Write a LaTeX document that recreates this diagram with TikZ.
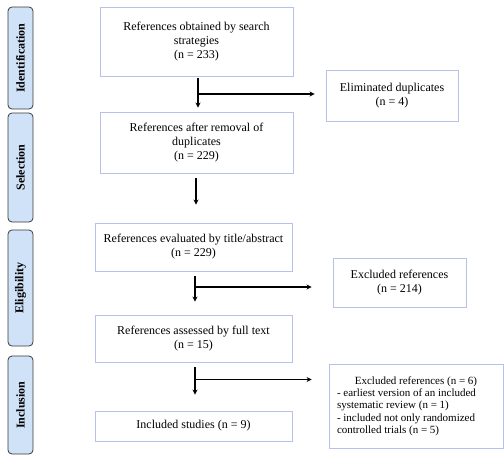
\documentclass[tikz,border=0pt]{standalone}
\usepackage{fontspec}
\setmainfont{Liberation Serif}
\usetikzlibrary{arrows.meta,calc}
\definecolor{boxline}{HTML}{B6C2EA}
\definecolor{sidefill}{HTML}{CFE2F8}
\definecolor{sideline}{HTML}{3A3A3A}
\begin{document}
\begin{tikzpicture}[x=1pt,y=-1pt,
  flowbox/.style={draw=boxline,line width=0.9pt,fill=white,inner sep=0pt,align=center,
    font=\fontsize{12}{14}\selectfont},
  sidebox/.style={draw=sideline,fill=sidefill,line width=0.8pt,rounded corners=4pt,
    rotate=90,minimum height=25pt,inner sep=0pt,font=\fontsize{12}{14}\selectfont\bfseries},
  arr/.style={line width=1.1pt,-{Stealth[length=5pt,width=5pt]}}]
\useasboundingbox (0,0) rectangle (504,456);
% side labels
\node[sidebox,minimum width=102pt] (sid) at (20.5,58) {Identification};
\node[sidebox,minimum width=109pt] (ssel) at (20.5,167.5) {Selection};
\node[sidebox,minimum width=116pt] (seli) at (20.5,288) {Eligibility};
\node[sidebox,minimum width=98pt] (sinc) at (20.5,405) {Inclusion};
% main boxes
\node[flowbox,minimum width=193pt,minimum height=69pt] (b1) at (196.5,41.5)
  {References obtained by search\\strategies\\(n = 233)};
\node[flowbox,minimum width=193pt,minimum height=61pt] (b2) at (196.5,142.5)
  {References after removal of\\duplicates\\(n = 229)};
\node[flowbox,minimum width=197pt,minimum height=48pt] (b3) at (193.5,247)
  {References evaluated by title/abstract\\(n = 229)};
\node[flowbox,minimum width=197pt,minimum height=47pt] (b4) at (193.5,338.5)
  {References assessed by full text\\(n = 15)};
\node[flowbox,minimum width=197pt,minimum height=30pt] (b5) at (193.5,426)
  {Included studies (n = 9)};
% side boxes
\node[flowbox,minimum width=132pt,minimum height=51pt] (elim) at (392,95.5)
  {Eliminated duplicates\\(n = 4)};
\node[flowbox,minimum width=133pt,minimum height=49pt] (ex1) at (399.5,282.5)
  {Excluded references\\(n = 214)};
\node[flowbox,minimum width=174pt,minimum height=84pt,font=\fontsize{11}{12.3}\selectfont] (ex2) at (416,406)
  {\parbox{158pt}{\centering Excluded references (n = 6)\par\raggedright
   - earliest version of an included\\systematic review (n = 1)\\- included not only randomized\\controlled trials (n = 5)}};
% arrows
\coordinate (m1) at (198,94);
\coordinate (m2) at (196,0);
\coordinate (m3) at (195,287);
\coordinate (m4) at (195,379.5);
\draw[arr,shorten <=2pt,shorten >=4pt] (b1.south -| m1) -- (b2.north -| m1);
\draw[arr,shorten >=11pt] (m1) -- (m1 -| elim.west);
\draw[arr,shorten <=5pt,shorten >=18pt] (b2.south -| m2) -- (b3.north -| m2);
\draw[arr,shorten <=5pt,shorten >=13pt] (b3.south -| m3) -- (b4.north -| m3);
\draw[arr,shorten >=21pt] (m3) -- (m3 -| ex1.west);
\draw[arr,shorten <=5pt,shorten >=16pt] (b4.south -| m4) -- (b5.north -| m4);
\draw[arr,shorten >=17pt] (m4) -- (m4 -| ex2.west);
\end{tikzpicture}
\end{document}
